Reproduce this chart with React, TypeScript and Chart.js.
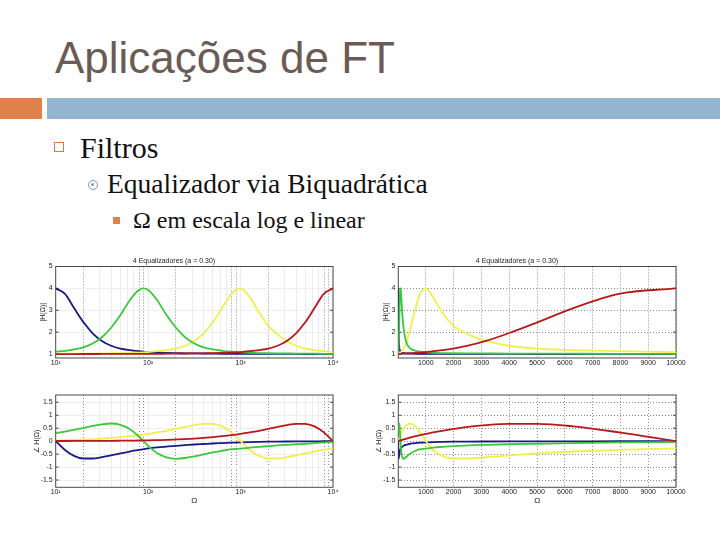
import React, { useEffect, useRef } from "react";
import { Chart, registerables } from "chart.js";

Chart.register(...registerables);

// ---- data ----
const OMEGA = [10, 12.6, 15.8, 20, 25.1, 31.6, 39.8, 50.1, 63.1, 79.4, 89.1, 100, 126, 158, 200, 251, 316, 398, 501, 631, 794, 1000, 1259, 1585, 1995, 2512, 3162, 3981, 5012, 6310, 7943, 10000];

const MAG_BLUE = [4.0, 3.75, 3.1, 2.45, 1.95, 1.6, 1.38, 1.25, 1.18, 1.13, 1.11, 1.09, 1.07, 1.05, 1.04, 1.035, 1.03, 1.025, 1.02, 1.015, 1.013, 1.01, 1.008, 1.007, 1.006, 1.005, 1.005, 1.004, 1.003, 1.002, 1.001, 1.0];
const MAG_GREEN = [1.11, 1.15, 1.21, 1.31, 1.48, 1.77, 2.2, 2.78, 3.45, 3.93, 4.0, 3.93, 3.45, 2.78, 2.2, 1.77, 1.48, 1.31, 1.21, 1.15, 1.11, 1.08, 1.06, 1.045, 1.038, 1.032, 1.028, 1.023, 1.02, 1.016, 1.012, 1.01];
const MAG_YELLOW = [1.01, 1.013, 1.017, 1.02, 1.025, 1.03, 1.035, 1.04, 1.05, 1.07, 1.08, 1.09, 1.13, 1.18, 1.25, 1.38, 1.6, 1.95, 2.45, 3.1, 3.75, 4.0, 3.6, 2.9, 2.3, 1.9, 1.6, 1.38, 1.25, 1.18, 1.13, 1.09];
const MAG_RED = [1.0, 1.0, 1.001, 1.002, 1.003, 1.004, 1.005, 1.006, 1.007, 1.008, 1.009, 1.01, 1.012, 1.016, 1.02, 1.025, 1.03, 1.035, 1.04, 1.05, 1.07, 1.09, 1.13, 1.18, 1.25, 1.38, 1.6, 1.95, 2.45, 3.1, 3.75, 4.0];

const PH_BLUE = [0, -0.34, -0.57, -0.67, -0.67, -0.62, -0.55, -0.47, -0.4, -0.34, -0.31, -0.28, -0.24, -0.21, -0.18, -0.155, -0.13, -0.11, -0.09, -0.075, -0.06, -0.045, -0.035, -0.028, -0.022, -0.017, -0.013, -0.01, -0.008, -0.006, -0.004, -0.003];
const PH_GREEN = [0.31, 0.37, 0.435, 0.51, 0.585, 0.65, 0.68, 0.63, 0.47, 0.18, 0, -0.18, -0.47, -0.63, -0.68, -0.65, -0.585, -0.51, -0.435, -0.37, -0.31, -0.29, -0.25, -0.22, -0.19, -0.16, -0.14, -0.12, -0.1, -0.075, -0.05, -0.03];
const PH_YELLOW = [0.03, 0.04, 0.05, 0.065, 0.08, 0.1, 0.125, 0.155, 0.19, 0.23, 0.255, 0.28, 0.34, 0.4, 0.47, 0.55, 0.62, 0.67, 0.67, 0.57, 0.34, 0, -0.34, -0.57, -0.67, -0.67, -0.62, -0.55, -0.47, -0.4, -0.34, -0.28];
const PH_RED = [0.005, 0.006, 0.007, 0.008, 0.01, 0.012, 0.014, 0.017, 0.02, 0.025, 0.027, 0.03, 0.04, 0.05, 0.065, 0.08, 0.1, 0.125, 0.155, 0.19, 0.23, 0.28, 0.34, 0.4, 0.47, 0.55, 0.62, 0.67, 0.67, 0.57, 0.34, 0];

const LOG_TICKS = [10, 20, 30, 40, 50, 60, 70, 80, 90, 100, 200, 300, 400, 500, 600, 700, 800, 900, 1000, 2000, 3000, 4000, 5000, 6000, 7000, 8000, 9000, 10000];
const LOG_DOTTED = [20, 80, 90, 200, 800, 900, 2000, 8000, 9000];
const LOG_LABEL_VALUES = [10, 100, 1000, 10000];
const LOG_LABEL_TEXT = ["10¹", "10²", "10³", "10⁴"];
const LIN_TICKS = [1000, 2000, 3000, 4000, 5000, 6000, 7000, 8000, 9000, 10000];
const MAG_TICKS = [1, 2, 3, 4, 5];
const PH_TICKS = [-1.5, -1, -0.5, 0, 0.5, 1, 1.5];

const CHART_TITLE = "4 Equalizadores (a = 0.30)";
const MAG_LABEL = "|H(Ω)|";
const PH_LABEL = "∠ H(Ω)";
const X_LABEL = "Ω";

const RED = "#b8181c";
const GREEN = "#3cc83c";
const YELLOW = "#f0ef4c";
const BLUE = "#1a1a86";

const FONT = '"Liberation Sans", Arial, sans-serif';
const TXT = "#222222";

const boxPlugin = {
  id: "box",
  beforeDatasetsDraw(chart: any) {
    const { ctx, chartArea: a } = chart;
    ctx.save();
    ctx.strokeStyle = "#4a4a4a";
    ctx.lineWidth = 1;
    ctx.strokeRect(a.left, a.top, a.right - a.left, a.bottom - a.top);
    const ys = chart.scales.y;
    ys.ticks.forEach((t: any) => {
      const py = ys.getPixelForValue(t.value);
      ctx.beginPath();
      ctx.moveTo(a.left, py);
      ctx.lineTo(a.left + 3, py);
      ctx.moveTo(a.right - 3, py);
      ctx.lineTo(a.right, py);
      ctx.stroke();
    });
    ctx.restore();
  },
};

function EqChart(props: { kind: "mag" | "phase"; log: boolean; left: number; top: number; yWidth: number; yTitlePad: number }) {
  const ref = useRef<HTMLCanvasElement>(null);
  useEffect(() => {
    const isMag = props.kind === "mag";
    const log = props.log;
    const series = isMag ? [MAG_RED, MAG_GREEN, MAG_YELLOW, MAG_BLUE] : [PH_RED, PH_GREEN, PH_YELLOW, PH_BLUE];
    const colors = [RED, GREEN, YELLOW, BLUE];
    const datasets = series.map((arr, i) => ({
      data: OMEGA.map((x, j) => ({ x, y: arr[j] })),
      borderColor: colors[i],
      borderWidth: 1.8,
      pointRadius: 0,
      fill: false,
      cubicInterpolationMode: "monotone" as const,
    }));
    const xTicks = log ? LOG_TICKS : LIN_TICKS;
    const yTicks = isMag ? MAG_TICKS : PH_TICKS;
    const isDotted = (v: number) => (log ? LOG_DOTTED.includes(v) : true);
    const chart = new Chart(ref.current as HTMLCanvasElement, {
      type: "line",
      data: { datasets },
      options: {
        animation: false,
        responsive: false,
        maintainAspectRatio: false,
        layout: { padding: { left: 0, right: 12, top: isMag ? 0 : 15, bottom: 0 } },
        plugins: {
          legend: { display: false },
          tooltip: { enabled: false },
          title: isMag
            ? { display: true, text: CHART_TITLE, font: { size: 7, family: FONT, weight: "normal" }, color: TXT, padding: { top: 7, bottom: 1.1 } }
            : { display: false },
        },
        scales: {
          x: {
            type: log ? "logarithmic" : "linear",
            min: 10,
            max: 10000,
            afterBuildTicks: (s: any) => {
              s.ticks = xTicks.map((v) => ({ value: v }));
            },
            afterFit: (s: any) => {
              s.height = isMag ? 22 : 22.7;
            },
            ticks: {
              autoSkip: false,
              maxRotation: 0,
              minRotation: 0,
              padding: 1,
              font: { size: 7, family: FONT },
              color: TXT,
              callback: (v: any) => {
                if (log) {
                  const k = LOG_LABEL_VALUES.indexOf(Number(v));
                  return k >= 0 ? LOG_LABEL_TEXT[k] : "";
                }
                return String(v);
              },
            },
            grid: {
              drawTicks: false,
              lineWidth: 1,
              color: (c: any) => (c.tick && isDotted(c.tick.value) ? "#8c8c8c" : "#ececec"),
            },
            border: {
              display: false,
              dash: (c: any) => (c.tick && isDotted(c.tick.value) ? [1, 2] : []),
            },
            title: isMag
              ? { display: false }
              : { display: true, text: X_LABEL, font: { size: 8, family: FONT }, color: TXT, padding: { top: 0, bottom: 4.2 } },
          } as any,
          y: {
            type: "linear",
            min: isMag ? 0.82 : -1.78,
            max: isMag ? 5 : 1.78,
            afterBuildTicks: (s: any) => {
              s.ticks = yTicks.map((v) => ({ value: v }));
            },
            afterFit: (s: any) => {
              s.width = props.yWidth;
            },
            ticks: { padding: 3, font: { size: 7, family: FONT }, color: TXT, callback: (v: any) => String(v) },
            grid: { drawTicks: false, lineWidth: 1, color: log ? "#eeeeee" : "#8c8c8c" },
            border: { display: false, dash: log ? [] : [1, 2] },
            title: {
              display: true,
              text: isMag ? MAG_LABEL : PH_LABEL,
              font: { size: 7, family: FONT },
              color: TXT,
              padding: { top: props.yTitlePad, bottom: 0 },
            },
          } as any,
        },
      },
      plugins: [boxPlugin],
    });
    return () => chart.destroy();
  }, []);
  return (
    <canvas
      ref={ref}
      width={330}
      height={130}
      style={{ position: "absolute", left: props.left, top: props.top, width: 330, height: 130 }}
    />
  );
}

export default function App() {
  const serif = '"Liberation Serif", "Times New Roman", serif';
  return (
    <div style={{ position: "absolute", left: 0, top: 0, width: 720, height: 540, background: "#ffffff", overflow: "hidden" }}>
      <div
        style={{
          position: "absolute",
          left: 55,
          top: 35.8,
          font: '44px "Liberation Sans", Arial, sans-serif',
          lineHeight: "44px",
          color: "#6b5b56",
          whiteSpace: "nowrap",
        }}
      >
        Aplicações de FT
      </div>
      <div style={{ position: "absolute", left: 0, top: 98, width: 42, height: 21, background: "#e0804a" }} />
      <div style={{ position: "absolute", left: 47, top: 98, width: 673, height: 21, background: "#94b5d2" }} />

      <div
        style={{
          position: "absolute",
          left: 54,
          top: 142,
          width: 10,
          height: 10,
          border: "1.8px solid #d27a42",
          boxSizing: "border-box",
        }}
      />
      <div style={{ position: "absolute", left: 80, top: 132.9, font: `30px ${serif}`, lineHeight: "30px", color: "#111", whiteSpace: "nowrap" }}>
        Filtros
      </div>

      <div
        style={{
          position: "absolute",
          left: 88,
          top: 180,
          width: 10,
          height: 10,
          borderRadius: "50%",
          border: "1.4px solid #7f9db9",
          boxSizing: "border-box",
        }}
      >
        <div style={{ position: "absolute", left: 2.2, top: 2.2, width: 3.2, height: 3.2, borderRadius: "50%", background: "#7f9db9" }} />
      </div>
      <div style={{ position: "absolute", left: 107, top: 170.4, font: `27.5px ${serif}`, lineHeight: "27.5px", color: "#111", whiteSpace: "nowrap" }}>
        Equalizador via Biquadrática
      </div>

      <div style={{ position: "absolute", left: 113, top: 217, width: 7, height: 7, background: "#e0804a" }} />
      <div style={{ position: "absolute", left: 133, top: 207.9, font: `24px ${serif}`, lineHeight: "24px", color: "#111", whiteSpace: "nowrap" }}>
        Ω em escala log e linear
      </div>

      <EqChart kind="mag" log={true} left={15} top={250} yWidth={40.7} yTitlePad={24.1} />
      <EqChart kind="mag" log={false} left={358} top={250} yWidth={40.3} yTitlePad={23.8} />
      <EqChart kind="phase" log={true} left={15} top={380} yWidth={40.7} yTitlePad={17.5} />
      <EqChart kind="phase" log={false} left={358} top={380} yWidth={40.3} yTitlePad={16.8} />
    </div>
  );
}
